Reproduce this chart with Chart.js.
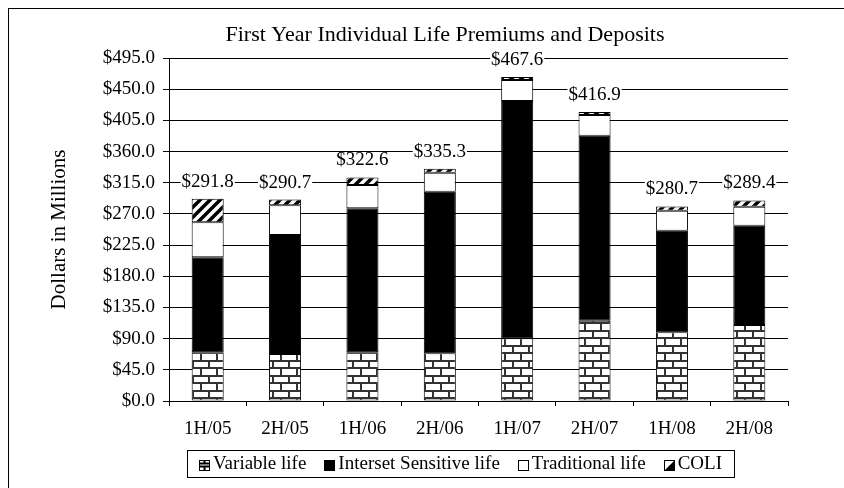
<!DOCTYPE html>
<html lang="en">
<head>
  <meta charset="UTF-8" />
  <title>First Year Individual Life Premiums and Deposits</title>
  <script src="https://cdn.jsdelivr.net/npm/chart.js"></script>
  <style>
    html, body { margin: 0; padding: 0; background: #fff; }
    canvas { display: block; }
  </style>
</head>
<body>
  <canvas id="chart" width="844" height="488"></canvas>

  <script>
    // data ($ millions)
    const periods = ['1H/05', '2H/05', '1H/06', '2H/06', '1H/07', '2H/07', '1H/08', '2H/08'];
    const variableLife = [70.3, 67.8, 70.3, 68.8, 90.5, 115.9, 99.1, 109.7];
    const interestSensitive = [137.1, 171.8, 207.8, 233.3, 342.5, 267.0, 146.7, 143.3];
    const traditionalLife = [50.5, 42.8, 33.6, 27.4, 30.3, 29.9, 28.9, 27.4];
    const coli = [33.9, 8.3, 10.9, 5.8, 4.3, 4.1, 6.0, 9.0];
    const totals = [291.8, 290.7, 322.6, 335.3, 467.6, 416.9, 280.7, 289.4];
    const yMax = 495;
    const yStep = 45;
    const chartTitle = 'First Year Individual Life Premiums and Deposits';

    const serif = "'Liberation Serif', 'Times New Roman', serif";
    Chart.defaults.font.family = serif;
    Chart.defaults.color = '#000';

    // fill patterns
    function brickPattern() {
      const c = document.createElement('canvas');
      c.width = 16; c.height = 15;
      const g = c.getContext('2d');
      g.fillStyle = '#fff';
      g.fillRect(0, 0, 16, 15);
      g.fillStyle = '#333';
      g.fillRect(0, 0, 16, 2);
      g.fillRect(0, 7, 16, 2);
      g.fillRect(0, 2, 2, 5);
      g.fillRect(8, 9, 2, 6);
      return g.createPattern(c, 'repeat');
    }

    function stripePattern() {
      const c = document.createElement('canvas');
      c.width = 10; c.height = 10;
      const g = c.getContext('2d');
      g.fillStyle = '#fff';
      g.fillRect(0, 0, 10, 10);
      g.strokeStyle = '#000';
      g.lineWidth = 3.5;
      g.beginPath();
      g.moveTo(-5, 5); g.lineTo(5, -5);
      g.moveTo(0, 10); g.lineTo(10, 0);
      g.moveTo(5, 15); g.lineTo(15, 5);
      g.stroke();
      return g.createPattern(c, 'repeat');
    }

    const bar = { borderColor: '#000', borderWidth: 1, borderSkipped: false, categoryPercentage: 1, barPercentage: 0.414 };

    // totals above each bar
    const totalLabels = {
      id: 'totalLabels',
      afterDatasetsDraw(chart) {
        const { ctx, scales: { x, y } } = chart;
        ctx.save();
        ctx.font = '19px ' + serif;
        ctx.textAlign = 'center';
        ctx.textBaseline = 'middle';
        totals.forEach((t, i) => {
          const px = x.getPixelForValue(i);
          const py = y.getPixelForValue(t) - 17;
          const txt = '$' + t.toFixed(1);
          const w = ctx.measureText(txt).width;
          ctx.fillStyle = '#fff';
          ctx.fillRect(px - w / 2 - 1, py - 8, w + 2, 16);
          ctx.fillStyle = '#000';
          ctx.fillText(txt, px, py);
        });
        ctx.restore();
      }
    };

    // outer frame, title and boxed legend
    const frameLegend = {
      id: 'frameLegend',
      afterDraw(chart) {
        const ctx = chart.ctx;
        ctx.save();
        ctx.strokeStyle = '#000';
        ctx.lineWidth = 1;
        ctx.strokeRect(8.5, 8.5, 900, 900);

        ctx.fillStyle = '#000';
        ctx.font = '22px ' + serif;
        ctx.textAlign = 'center';
        ctx.textBaseline = 'middle';
        ctx.fillText(chartTitle, 445, 35);

        const items = [
          { text: 'Variable life', kind: 'brick' },
          { text: 'Interset Sensitive life', kind: 'black' },
          { text: 'Traditional life', kind: 'white' },
          { text: 'COLI', kind: 'coli' }
        ];
        ctx.font = '19px ' + serif;
        const icon = 10, iconGap = 4, itemGap = 18;
        const widths = items.map(it => icon + iconGap + ctx.measureText(it.text).width);
        const total = widths.reduce((a, b) => a + b, 0) + itemGap * (items.length - 1);
        const boxW = total + 24, boxH = 27;
        const cx = 460.5, top = 450;
        const left = Math.round(cx - boxW / 2);
        ctx.strokeRect(left + 0.5, top + 0.5, boxW, boxH);

        let xx = left + 12;
        const midY = top + boxH / 2 + 1;
        ctx.textAlign = 'left';
        items.forEach((it, i) => {
          const ix = Math.round(xx) + 0.5, iy = Math.round(midY - icon / 2) + 0.5;
          ctx.fillStyle = '#fff';
          ctx.fillRect(ix, iy, icon, icon);
          if (it.kind === 'black') {
            ctx.fillStyle = '#000';
            ctx.fillRect(ix, iy, icon, icon);
          } else if (it.kind === 'brick') {
            ctx.beginPath();
            ctx.moveTo(ix, iy + 3); ctx.lineTo(ix + icon, iy + 3);
            ctx.moveTo(ix, iy + 6); ctx.lineTo(ix + icon, iy + 6);
            ctx.moveTo(ix + 5, iy); ctx.lineTo(ix + 5, iy + 3);
            ctx.moveTo(ix + 5, iy + 6); ctx.lineTo(ix + 5, iy + icon);
            ctx.lineWidth = 2;
            ctx.stroke();
            ctx.lineWidth = 1;
          } else if (it.kind === 'coli') {
            ctx.fillStyle = '#000';
            ctx.beginPath();
            ctx.moveTo(ix + icon, iy);
            ctx.lineTo(ix + icon, iy + icon);
            ctx.lineTo(ix, iy + icon);
            ctx.closePath();
            ctx.fill();
          }
          ctx.strokeRect(ix, iy, icon, icon);
          ctx.fillStyle = '#000';
          ctx.fillText(it.text, xx + icon + iconGap, midY);
          xx += widths[i] + itemGap;
        });
        ctx.restore();
      }
    };

    new Chart(document.getElementById('chart').getContext('2d'), {
      type: 'bar',
      data: {
        labels: periods,
        datasets: [
          { label: 'Variable life', data: variableLife, backgroundColor: brickPattern(), ...bar },
          { label: 'Interset Sensitive life', data: interestSensitive, backgroundColor: '#000', ...bar },
          { label: 'Traditional life', data: traditionalLife, backgroundColor: '#fff', ...bar },
          { label: 'COLI', data: coli, backgroundColor: stripePattern(), ...bar }
        ]
      },
      options: {
        responsive: false,
        animation: false,
        layout: { padding: { left: 0, right: 56, top: 58, bottom: 0 } },
        plugins: {
          legend: { display: false },
          tooltip: { enabled: false },
          title: { display: false }
        },
        scales: {
          x: {
            stacked: true,
            grid: { drawOnChartArea: false, color: '#000', tickLength: 5 },
            border: { color: '#000' },
            ticks: { font: { size: 19 }, padding: 12, maxRotation: 0 },
            afterFit: s => { s.height = 87; }
          },
          y: {
            stacked: true,
            min: 0,
            max: yMax,
            grid: { color: '#000', tickLength: 6 },
            border: { color: '#000' },
            ticks: { stepSize: yStep, font: { size: 19 }, padding: 8, callback: v => '$' + v.toFixed(1) },
            title: { display: true, text: 'Dollars in Millions', font: { size: 21 }, padding: { top: 47, bottom: 0 } },
            afterFit: s => { s.width = 169; }
          }
        }
      },
      plugins: [totalLabels, frameLegend]
    });
  </script>
</body>
</html>
